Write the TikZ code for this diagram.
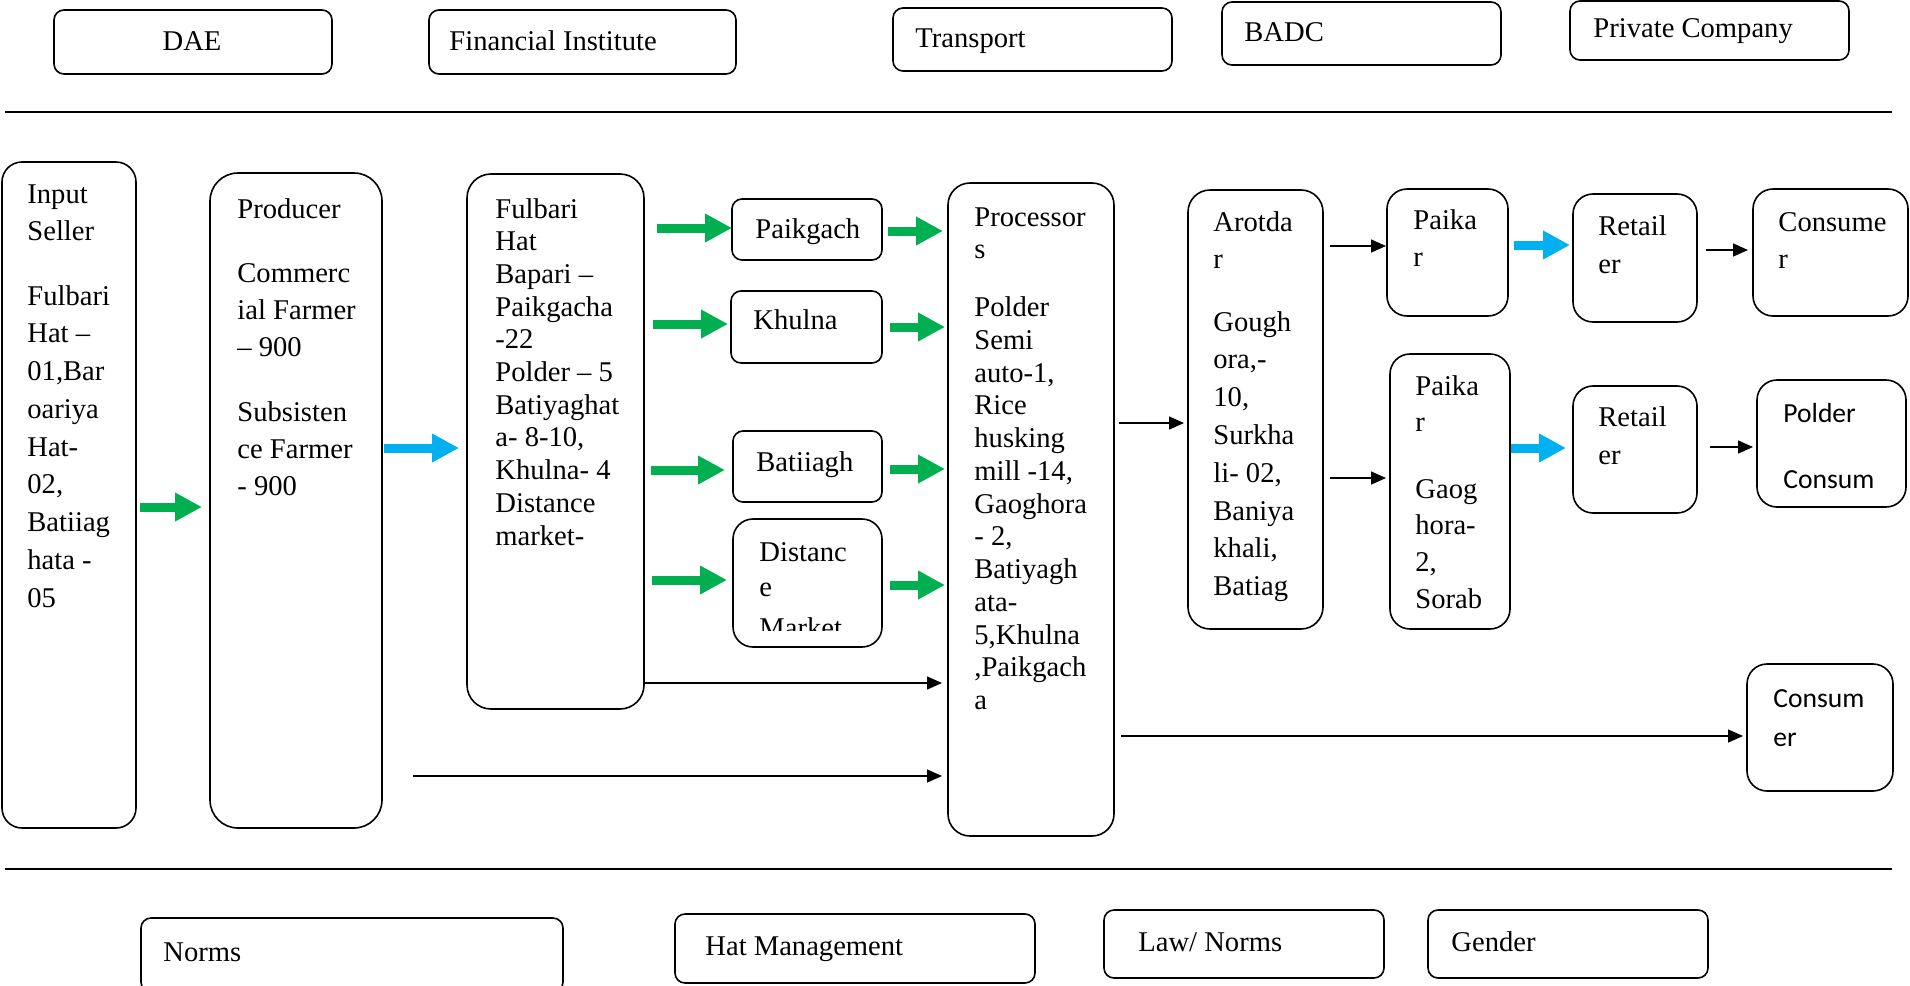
\documentclass[tikz,border=0pt]{standalone}
\usepackage{fontspec}
\setmainfont{Liberation Serif}
\newfontfamily\calib{Carlito}
\usetikzlibrary{fit,arrows.meta}
\definecolor{grn}{HTML}{00B050}
\definecolor{blu}{HTML}{00B0F0}
\newcommand\mylines[1]{\begin{tabular}[t]{@{}l@{}}#1\end{tabular}}
\tikzset{
  bx/.style={draw, line width=0.8pt, inner sep=0pt, outer sep=0pt, rounded corners=#1},
  bx/.default=5pt,
  txt/.style={inner sep=0pt, anchor=base west, font=\fontsize{14.3pt}{#1}\selectfont},
  txt/.default=18.8pt,
  garr/.style={draw=grn, line width=4.5pt, -{Triangle[length=13.5pt,width=13.5pt]}},
  barr/.style={draw=blu, line width=4.5pt, -{Triangle[length=13.5pt,width=13.5pt]}},
  karr/.style={draw=black, line width=0.75pt, -{Triangle[length=7.5pt,width=6.5pt]}},
  rule/.style={draw=black, line width=0.8pt}
}
\begin{document}
\begin{tikzpicture}[x=0.5pt,y=-0.5pt]
\useasboundingbox (0,0) rectangle (1910,985);
% separator rules
\coordinate (tl) at (5,112); \coordinate (tr) at (1892,112);
\coordinate (bl) at (5,869); \coordinate (br) at (1892,869);
\draw[rule] (tl) -- (tr);
\draw[rule] (bl) -- (br);
% top boxes
\node[bx, fit={(54,10) (332,74)}] (dae) {};
\node[txt, anchor=base] (dae-t) at (192,50) {DAE};
\node[bx, fit={(429,10) (736,74)}] (fin) {};
\node[txt] (fin-t) at (449,50) {Financial Institute};
\node[bx, fit={(893,8) (1172,71)}] (trn) {};
\node[txt] (trn-t) at (915,47) {Transport};
\node[bx, fit={(1222,2) (1501,65)}] (badc) {};
\node[txt] (badc-t) at (1244,41) {BADC};
\node[bx, fit={(1570,1) (1849,60)}] (priv) {};
\node[txt] (priv-t) at (1593,37) {Private Company};
% bottom boxes
\node[bx, fit={(141,918) (563,992)}] (norms) {};
\node[txt] (norms-t) at (163,961) {Norms};
\node[bx, fit={(675,914) (1035,983)}] (hat) {};
\node[txt] (hat-t) at (705,955) {Hat Management};
\node[bx, fit={(1104,910) (1384,978)}] (law) {};
\node[txt] (law-t) at (1138,951) {Law/ Norms};
\node[bx, fit={(1428,910) (1708,978)}] (gen) {};
\node[txt] (gen-t) at (1451,951) {Gender};
% main chain boxes
\node[bx=10pt, fit={(2,162) (136,828)}] (inp) {};
\node[txt=18.875pt] (inp-t) at (27,203) {\mylines{Input\\Seller\\[13.25pt]Fulbari\\Hat –\\01,Bar\\oariya\\Hat-\\02,\\Batiiag\\hata -\\05}};
\node[bx=14pt, fit={(210,173) (382,828)}] (prod) {};
\node[txt=18.6pt] (prod-t) at (237,218) {\mylines{Producer\\[13.4pt]Commerc\\ial Farmer\\– 900\\[13.8pt]Subsisten\\ce Farmer\\- 900}};
\node[bx=12pt, fit={(467,174) (644,709)}] (ful) {};
\node[txt=16.35pt] (ful-t) at (495,218) {\mylines{Fulbari\\Hat\\Bapari –\\Paikgacha\\-22\\Polder – 5\\Batiyaghat\\a- 8-10,\\Khulna- 4\\Distance\\market-}};
\node[bx, fit={(732,199) (882,260)}] (paik) {};
\node[txt] (paik-t) at (755,238) {Paikgach};
\node[bx, fit={(731,291) (882,363)}] (khul) {};
\node[txt] (khul-t) at (753,329) {Khulna};
\node[bx, fit={(733,431) (882,502)}] (bati) {};
\node[txt] (bati-t) at (756,471) {Batiiagh};
\node[bx=10pt, fit={(733,519) (882,647)}] (dist) {};
\begin{scope}
\clip (733,519) rectangle (882,630);
\node[txt=17.75pt] (dist-t) at (759,561) {\mylines{Distanc\\e\\[2.5pt]Market}};
\end{scope}
\node[bx=11pt, fit={(948,183) (1114,836)}] (proc) {};
\node[txt=16.375pt] (proc-t) at (974,226) {\mylines{Processor\\s\\[12.5pt]Polder\\Semi\\auto-1,\\Rice\\husking\\mill -14,\\Gaoghora\\- 2,\\Batiyagh\\ata-\\5,Khulna\\,Paikgach\\a}};
\node[bx=11pt, fit={(1188,190) (1323,629)}] (arot) {};
\node[txt=18.9pt] (arot-t) at (1213,231) {\mylines{Arotda\\r\\[12.2pt]Gough\\ora,-\\10,\\Surkha\\li- 02,\\Baniya\\khali,\\Batiag}};
\node[bx=10pt, fit={(1387,189) (1508,316)}] (pk1) {};
\node[txt=18.5pt] (pk1-t) at (1413,229) {\mylines{Paika\\r}};
\node[bx=10pt, fit={(1390,354) (1510,629)}] (pk2) {};
\node[txt=18.3pt] (pk2-t) at (1415,395) {\mylines{Paika\\r\\[15pt]Gaog\\hora-\\2,\\Sorab}};
\node[bx=10pt, fit={(1573,194) (1697,322)}] (ret1) {};
\node[txt=19pt] (ret1-t) at (1598,235) {\mylines{Retail\\er}};
\node[bx=10pt, fit={(1573,386) (1697,513)}] (ret2) {};
\node[txt=19pt] (ret2-t) at (1598,426) {\mylines{Retail\\er}};
\node[bx=10pt, fit={(1753,189) (1908,316)}] (con1) {};
\node[txt=18.5pt] (con1-t) at (1778,231) {\mylines{Consume\\r}};
\node[bx=10pt, fit={(1757,380) (1906,507)}] (pold) {};
\node[inner sep=0pt, anchor=base west, font=\calib\fontsize{13.8pt}{33pt}\selectfont] (pold-t) at (1783,422) {\mylines{Polder\\Consum}};
\node[bx=10pt, fit={(1747,664) (1893,791)}] (con3) {};
\node[inner sep=0pt, anchor=base west, font=\calib\fontsize{13.8pt}{19.5pt}\selectfont] (con3-t) at (1773,707) {\mylines{Consum\\er}};
% connectors
\draw[garr, shorten <=2pt, shorten >=4pt] (inp.east |- 0,507) -- (prod.west |- 0,507);
\draw[barr, shorten <=1pt, shorten >=4pt] (prod.east |- 0,448) -- (ful.west |- 0,448);
\draw[garr, shorten <=6.5pt, shorten >=0pt] (ful.east |- 0,228) -- (paik.west |- 0,228);
\draw[garr, shorten <=4.5pt, shorten >=1.5pt] (ful.east |- 0,324) -- (khul.west |- 0,324);
\draw[garr, shorten <=3.5pt, shorten >=4pt] (ful.east |- 0,470) -- (bati.west |- 0,470);
\draw[garr, shorten <=4pt, shorten >=3pt] (ful.east |- 0,580) -- (dist.west |- 0,580);
\draw[garr, shorten <=3pt, shorten >=2.5pt] (paik.east |- 0,231) -- (proc.west |- 0,231);
\draw[garr, shorten <=4pt, shorten >=1.5pt] (khul.east |- 0,327) -- (proc.west |- 0,327);
\draw[garr, shorten <=4pt, shorten >=1.5pt] (bati.east |- 0,469) -- (proc.west |- 0,469);
\draw[garr, shorten <=4pt, shorten >=1.5pt] (dist.east |- 0,585) -- (proc.west |- 0,585);
\draw[karr, shorten >=3pt] (ful.east |- 0,683) -- (proc.west |- 0,683);
\draw[karr, shorten <=15.5pt, shorten >=3pt] (prod.east |- 0,776) -- (proc.west |- 0,776);
\draw[karr, shorten <=2.5pt, shorten >=2pt] (proc.east |- 0,423) -- (arot.west |- 0,423);
\draw[karr, shorten <=3.5pt, shorten >=0.5pt] (arot.east |- 0,246) -- (pk1.west |- 0,246);
\draw[karr, shorten <=3.5pt, shorten >=2pt] (arot.east |- 0,478) -- (pk2.west |- 0,478);
\draw[barr, shorten <=3pt, shorten >=1.5pt] (pk1.east |- 0,245) -- (ret1.west |- 0,245);
\draw[karr, shorten <=4.5pt, shorten >=2.5pt] (ret1.east |- 0,250) -- (con1.west |- 0,250);
\draw[barr, shorten <=0.5pt, shorten >=3.5pt] (pk2.east |- 0,448) -- (ret2.west |- 0,448);
\draw[karr, shorten <=6.5pt, shorten >=2pt] (ret2.east |- 0,447) -- (pold.west |- 0,447);
\draw[karr, shorten <=3.5pt, shorten >=2pt] (proc.east |- 0,736) -- (con3.west |- 0,736);
\end{tikzpicture}
\end{document}
